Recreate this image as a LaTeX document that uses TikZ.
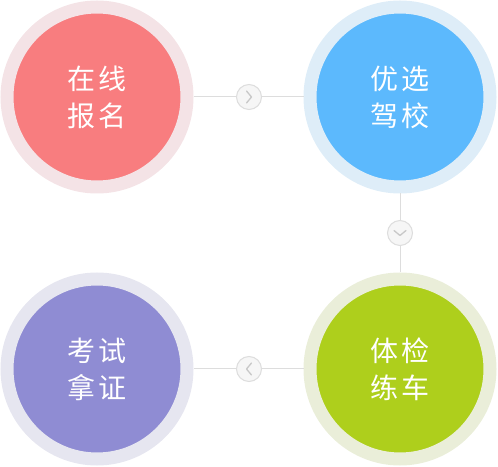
\documentclass[tikz,border=0pt]{standalone}
\usepackage{fontspec}
\newfontfamily\cjk{Noto Sans CJK SC}
\usepackage{tikz}
\usetikzlibrary{positioning, calc}
\definecolor{PinkIn}{HTML}{F87D7F}
\definecolor{PinkOut}{HTML}{F4E3E6}
\definecolor{BlueIn}{HTML}{5CB9FD}
\definecolor{BlueOut}{HTML}{DEEDF8}
\definecolor{GreenIn}{HTML}{AECF1C}
\definecolor{GreenOut}{HTML}{EAEED9}
\definecolor{PurpleIn}{HTML}{8F8CD3}
\definecolor{PurpleOut}{HTML}{E6E6F0}
\definecolor{LineGray}{HTML}{DDDDDD}
\definecolor{IconGray}{HTML}{C8C8C8}

\newcommand{\gap}{\kern3pt}

\tikzset{
  stepnode/.style 2 args={circle, minimum size=180pt, inner sep=0pt,
    line width=13pt, fill=#1, draw=#2, text=white, align=center,
    font=\cjk\fontsize{28}{37}\selectfont},
  iconnode/.style={circle, minimum size=25pt, inner sep=0pt,
    fill=gray!7, draw=LineGray, line width=1pt},
  link/.style={LineGray, line width=1pt},
  chev/.style={IconGray, line width=1.3pt, line cap=round, line join=round}
}

\begin{document}
\begin{tikzpicture}[x=1pt, y=1pt]
        \useasboundingbox (0,0) rectangle (498,466);

        % Steps
        \node[stepnode={PinkIn}{PinkOut}] (signup) at (97,369) {在\gap 线\\报\gap 名};
        \node[stepnode={BlueIn}{BlueOut}] (school) at (400,369) {优\gap 选\\驾\gap 校};
        \node[stepnode={GreenIn}{GreenOut}] (train) at (400,97) {体\gap 检\\练\gap 车};
        \node[stepnode={PurpleIn}{PurpleOut}] (license) at (97,97) {考\gap 试\\拿\gap 证};

        % Arrow icons
        \node[iconnode] (arrA) at (249,369) {};
        \node[iconnode] (arrB) at (400,233) {};
        \node[iconnode] (arrC) at (249,97) {};

        % Connectors
        \draw[link] (signup) -- (arrA) -- (school);
        \draw[link] (school) -- (arrB) -- (train);
        \draw[link] (train) -- (arrC) -- (license);

        % Chevrons
        \draw[chev] ($(arrA.center)+(-2.5,6)$) -- ++(5,-6) -- ++(-5,-6);
        \draw[chev] ($(arrB.center)+(-6,2.5)$) -- ++(6,-5) -- ++(6,5);
        \draw[chev] ($(arrC.center)+(2.5,6)$) -- ++(-5,-6) -- ++(5,-6);
    \end{tikzpicture}
\end{document}
